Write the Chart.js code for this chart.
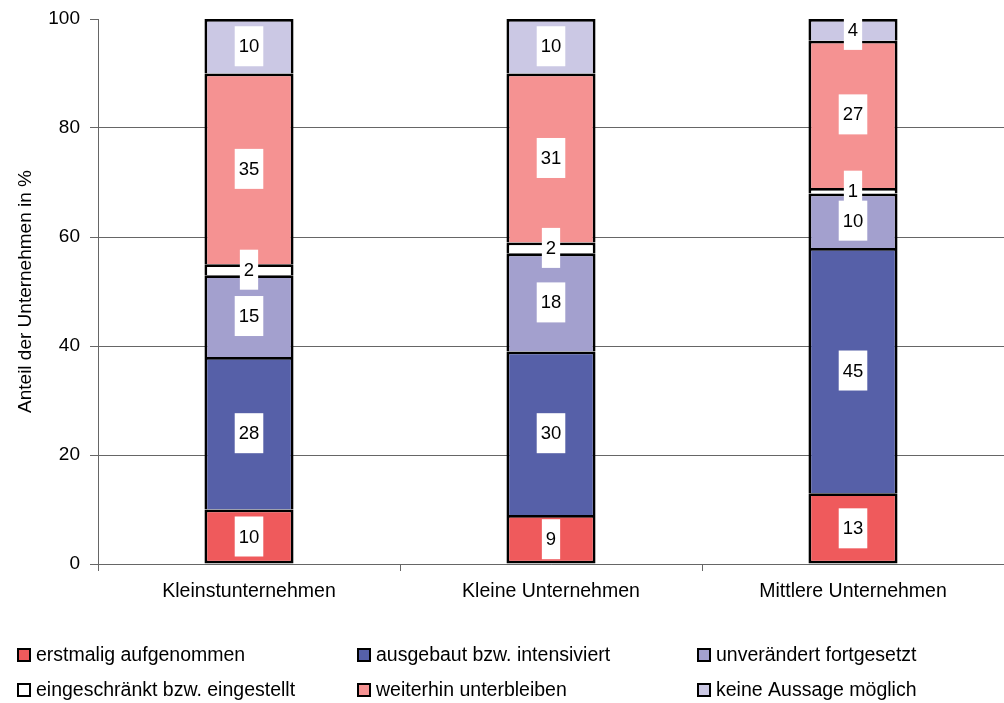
<!DOCTYPE html>
<html lang="de">
<head>
<meta charset="utf-8">
<title>Anteil der Unternehmen</title>
<script src="https://cdn.jsdelivr.net/npm/chart.js@4/dist/chart.umd.min.js"></script>
<style>
  html, body { margin: 0; padding: 0; background: #fff; }
  #wrap { width: 1004px; height: 703px; position: relative; }
</style>
</head>
<body>
<div id="wrap"><canvas id="chart" width="1004" height="703"></canvas></div>
<script>
// Categories (company size classes)
const categories = ['Kleinstunternehmen', 'Kleine Unternehmen', 'Mittlere Unternehmen'];

// Series labels
const seriesLabels = [
  'erstmalig aufgenommen',
  'ausgebaut bzw. intensiviert',
  'unverändert fortgesetzt',
  'eingeschränkt bzw. eingestellt',
  'weiterhin unterbleiben',
  'keine Aussage möglich'
];

// Shares in percent, per category
const erstmalig      = [10, 9, 13];
const ausgebaut      = [28, 30, 45];
const unveraendert   = [15, 18, 10];
const eingeschraenkt = [2, 2, 1];
const weiterhin      = [35, 31, 27];
const keineAussage   = [10, 10, 4];

// Y axis ticks
const yTicks = [0, 20, 40, 60, 80, 100];

const seriesValues = [erstmalig, ausgebaut, unveraendert, eingeschraenkt, weiterhin, keineAussage];
const seriesColors = ['#EF5A5C', '#5660A8', '#A3A0CE', '#FFFFFF', '#F59292', '#CBC8E4'];

const FONT = "'Liberation Sans Narrow', 'Arial Narrow', 'Liberation Sans', Arial, sans-serif";

const datasets = seriesValues.map((vals, i) => ({
  label: seriesLabels[i],
  data: vals,
  backgroundColor: seriesColors[i],
  borderColor: '#000',
  borderWidth: 2.8,
  borderSkipped: i === 0 ? false : 'start'
}));

// White boxes with the value, centred on each segment
const valueLabels = {
  id: 'valueLabels',
  afterDatasetsDraw(chart) {
    const ctx = chart.ctx;
    ctx.save();
    ctx.font = '18.5px ' + FONT;
    ctx.textAlign = 'center';
    ctx.textBaseline = 'middle';
    chart.data.datasets.forEach((ds, di) => {
      const meta = chart.getDatasetMeta(di);
      meta.data.forEach((bar, idx) => {
        const txt = String(ds.data[idx]);
        const cy = (bar.y + bar.base) / 2;
        const w = ctx.measureText(txt).width + 8;
        const h = 40;
        ctx.fillStyle = '#fff';
        ctx.fillRect(bar.x - w / 2, cy - h / 2, w, h);
        ctx.fillStyle = '#000';
        ctx.fillText(txt, bar.x, cy + 1);
      });
    });
    ctx.restore();
  }
};

// Legend laid out as a three-column grid below the axis
const gridLegend = {
  id: 'gridLegend',
  afterDraw(chart) {
    const ctx = chart.ctx;
    const cols = [17, 357, 697];
    const rows = [655, 690];
    ctx.save();
    ctx.font = '19.5px ' + FONT;
    ctx.textBaseline = 'middle';
    ctx.textAlign = 'left';
    chart.data.datasets.forEach((ds, i) => {
      const x = cols[i % 3];
      const y = rows[Math.floor(i / 3)];
      ctx.fillStyle = ds.backgroundColor;
      ctx.fillRect(x, y - 7, 14, 14);
      ctx.lineWidth = 2;
      ctx.strokeStyle = '#000';
      ctx.strokeRect(x + 1, y - 6, 12, 12);
      ctx.fillStyle = '#000';
      ctx.fillText(ds.label, x + 19, y + 1);
    });
    ctx.restore();
  }
};

new Chart(document.getElementById('chart'), {
  type: 'bar',
  data: { labels: categories, datasets },
  options: {
    responsive: false,
    animation: false,
    layout: { padding: { top: 19, right: 0, bottom: 89, left: 0 } },
    plugins: {
      legend: { display: false },
      tooltip: { enabled: false }
    },
    datasets: {
      bar: { barPercentage: 0.295, categoryPercentage: 1 }
    },
    scales: {
      x: {
        stacked: true,
        afterFit(scale) {
          scale.height = 50;
          scale.paddingLeft = 0;
          scale.paddingRight = 0;
        },
        grid: {
          display: true,
          drawOnChartArea: false,
          offset: true,
          tickLength: 7,
          color: '#666',
          lineWidth: 1
        },
        border: { display: true, color: '#666', width: 1 },
        ticks: {
          color: '#000',
          padding: 9,
          font: { family: FONT, size: 19.5 }
        }
      },
      y: {
        stacked: true,
        min: yTicks[0],
        max: yTicks[yTicks.length - 1],
        afterFit(scale) {
          scale.width = 98;
          scale.paddingTop = 0;
          scale.paddingBottom = 0;
        },
        afterBuildTicks(scale) { scale.ticks = yTicks.map(v => ({ value: v })); },
        grid: {
          color: ctx => (ctx.tick && ctx.tick.value === 100 ? 'rgba(0,0,0,0)' : '#666'),
          tickColor: '#666',
          lineWidth: 1,
          tickLength: 8
        },
        border: { display: true, color: '#666', width: 1 },
        ticks: {
          color: '#000',
          padding: 10,
          font: { family: FONT, size: 19 }
        },
        title: {
          display: true,
          text: 'Anteil der Unternehmen in %',
          color: '#000',
          padding: { top: 14, bottom: 0 },
          font: { family: FONT, size: 19 }
        }
      }
    }
  },
  plugins: [valueLabels, gridLegend]
});
</script>
</body>
</html>
